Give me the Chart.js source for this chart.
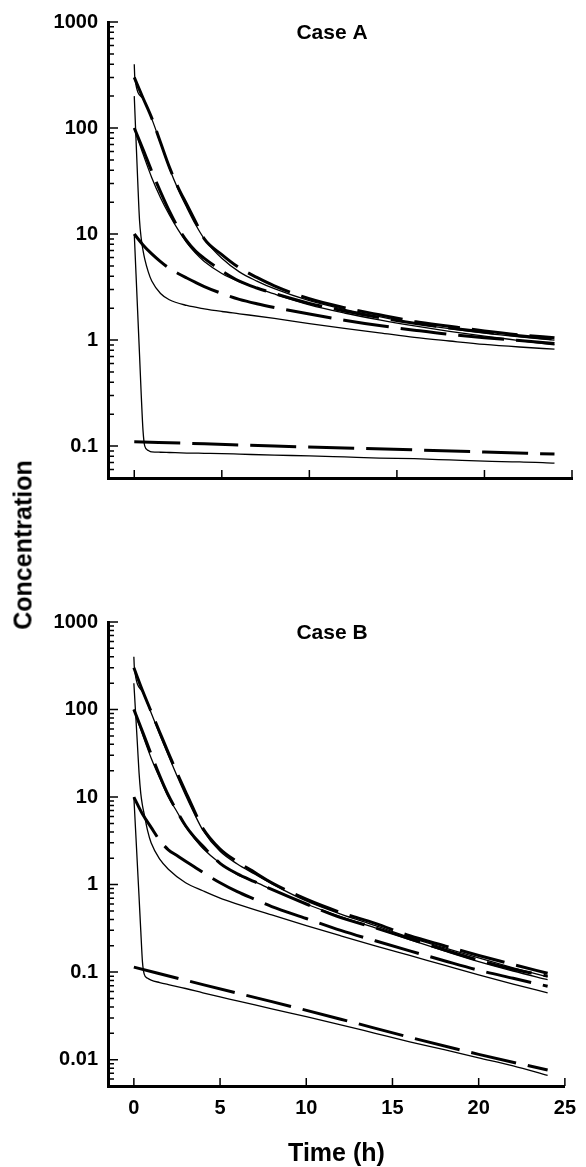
<!DOCTYPE html>
<html><head><meta charset="utf-8">
<script src="https://cdn.jsdelivr.net/npm/chart.js@4.4.1/dist/chart.umd.min.js"></script>
<style>
html,body{margin:0;padding:0;background:#fff;width:586px;height:1167px;overflow:hidden;}
#wrap{position:relative;width:586px;height:1167px;}
canvas{position:absolute;left:0;}
#ylab{position:absolute;font:bold 25px "Liberation Sans", Arial, sans-serif;color:#000;white-space:nowrap;left:22.5px;top:545px;transform:translate(-50%,-50%) rotate(-90deg);}
</style></head>
<body><div id="wrap">
<canvas id="cA" width="586" height="500" style="top:0px"></canvas>
<canvas id="cB" width="586" height="567" style="top:600px"></canvas>
<div id="ylab">Concentration</div>
</div>
<script>
// ---- time grids (h)
const tDose  = [0, 0.5, 1, 1.5, 2, 2.5, 3, 3.5, 4, 5, 6, 7, 8, 10, 12, 14, 16, 18, 20, 22, 24];
const tFast  = [0, 0.1, 0.2, 0.3, 0.4, 0.5, 0.6, 0.8, 1, 1.5, 2, 3, 4, 5, 6, 8, 10, 12, 14, 16, 18, 20, 22, 24];
const tStart = [0, 0.03, 0.5, 1, 1.5, 2, 2.5, 3, 3.5, 4, 5, 6, 7, 8, 10, 12, 14, 16, 18, 20, 22, 24];
const tLow   = [0, 4, 8, 12, 16, 20, 24];

// ---- Case A
const aDash300 = [300, 192, 124, 73, 43, 27.6, 19, 13.1, 9.0, 6.4, 4.8, 3.9, 3.25, 2.45, 2.02, 1.73, 1.5, 1.35, 1.22, 1.12, 1.05];
const aDash100 = [100, 63, 39, 25, 16.5, 11.5, 8.6, 6.9, 5.9, 4.5, 3.6, 3.1, 2.75, 2.22, 1.88, 1.63, 1.44, 1.3, 1.19, 1.1, 1.02];
const aDash10  = [10, 7.9, 6.5, 5.5, 4.75, 4.25, 3.85, 3.5, 3.2, 2.75, 2.42, 2.2, 2.03, 1.76, 1.54, 1.37, 1.24, 1.13, 1.05, 0.99, 0.93];
const aDashLow = [0.11, 0.105, 0.1, 0.096, 0.092, 0.088, 0.084];
const aSolid400 = [400, 300, 190, 122, 72, 42, 26.5, 17.8, 12.3, 9.0, 5.9, 4.4, 3.6, 3.05, 2.35, 1.95, 1.66, 1.44, 1.28, 1.16, 1.07, 1.0];
const aSolid100 = [100, 57, 34, 22, 15.2, 11, 8.3, 6.6, 5.5, 4.25, 3.55, 3.1, 2.72, 2.15, 1.8, 1.55, 1.36, 1.21, 1.09, 0.99, 0.9];
const aSolid200 = [200, 78, 31, 13.5, 9, 7, 5.8, 4.4, 3.6, 2.75, 2.4, 2.12, 1.97, 1.86, 1.77, 1.6, 1.43, 1.29, 1.17, 1.06, 0.98, 0.91, 0.86, 0.82];
const aSolid10  = [10, 4.2, 1.75, 0.73, 0.3, 0.14, 0.1, 0.091, 0.088, 0.0875, 0.087, 0.086, 0.0855, 0.085, 0.084, 0.082, 0.081, 0.079, 0.077, 0.076, 0.074, 0.072, 0.071, 0.069];

// ---- Case B
const bDash300 = [300, 165, 95, 55, 32, 19, 11.5, 7, 4.4, 2.55, 1.82, 1.38, 1.05, 0.68, 0.48, 0.36, 0.26, 0.2, 0.155, 0.122, 0.097];
const bDash100 = [100, 56, 31, 17.5, 10.5, 6.9, 4.7, 3.5, 2.75, 1.75, 1.33, 1.08, 0.88, 0.6, 0.42, 0.32, 0.24, 0.18, 0.137, 0.108, 0.09];
const bDash10  = [10, 6.4, 4.5, 3.2, 2.5, 2.15, 1.85, 1.6, 1.38, 1.05, 0.83, 0.68, 0.56, 0.41, 0.3, 0.228, 0.175, 0.135, 0.105, 0.085, 0.069];
const bDashLow = [0.114, 0.072, 0.046, 0.029, 0.018, 0.0115, 0.0076];
const bSolid400 = [400, 300, 160, 92, 52, 30, 17.5, 10.5, 6.5, 4.2, 2.4, 1.72, 1.32, 1.02, 0.65, 0.46, 0.34, 0.25, 0.19, 0.145, 0.112, 0.088];
const bSolid100 = [100, 52, 28, 16.5, 10, 6.8, 4.6, 3.4, 2.6, 1.75, 1.3, 1.08, 0.88, 0.6, 0.43, 0.32, 0.235, 0.175, 0.132, 0.103, 0.082];
const bSolid200 = [200, 92, 42, 19, 11, 8, 6.4, 4.1, 3.0, 1.95, 1.5, 1.05, 0.85, 0.7, 0.6, 0.45, 0.34, 0.26, 0.2, 0.155, 0.12, 0.093, 0.073, 0.058];
const bSolid10  = [10, 4.2, 1.75, 0.73, 0.3, 0.13, 0.095, 0.085, 0.081, 0.076, 0.072, 0.065, 0.058, 0.052, 0.047, 0.038, 0.031, 0.025, 0.02, 0.016, 0.013, 0.0105, 0.0085, 0.0066];

// ---- ticks
const xTicks  = [0, 5, 10, 15, 20, 25];
const yTicksA = [0.1, 1, 10, 100, 1000];
const yTicksB = [0.01, 0.1, 1, 10, 100, 1000];

const FONT = '"Liberation Sans", Arial, Helvetica, sans-serif';

function pts(t, v){ return t.map((x,i)=>({x:x, y:v[i]})); }
function solid(t, v){ return {data:pts(t,v), borderColor:'#000', borderWidth:1.3, pointRadius:0, cubicInterpolationMode:'monotone', fill:false}; }
function dashed(t, v){ return {data:pts(t,v), borderColor:'#000', borderWidth:3, borderDash:[46,12], borderCapStyle:'butt', pointRadius:0, cubicInterpolationMode:'monotone', fill:false}; }

const inTicks = {
  id:'inTicks',
  afterDatasetsDraw(chart){
    const {ctx, chartArea:a, scales:{x, y}} = chart;
    ctx.save();
    ctx.strokeStyle = '#000';
    ctx.lineWidth = 1.5;
    ctx.beginPath();
    const lo = Math.floor(Math.log10(y.min)), hi = Math.ceil(Math.log10(y.max));
    for (let e = lo; e <= hi; e++) {
      for (let m = 1; m < 10; m++) {
        const v = m * Math.pow(10, e);
        if (v < y.min * 0.999 || v > y.max * 1.001) continue;
        const py = y.getPixelForValue(v);
        const len = (m === 1) ? 10 : 6;
        ctx.moveTo(a.left, py); ctx.lineTo(a.left + len, py);
      }
    }
    xTicks.forEach(v => { const px = x.getPixelForValue(v); ctx.moveTo(px, a.bottom); ctx.lineTo(px, a.bottom - 8); });
    ctx.stroke();
    ctx.restore();
  }
};

const caseTitle = {
  id:'caseTitle',
  afterDraw(chart, args, opts){
    const ctx = chart.ctx;
    ctx.save();
    ctx.font = 'bold 21px ' + FONT;
    ctx.fillStyle = '#000';
    ctx.textAlign = 'center';
    ctx.textBaseline = 'middle';
    ctx.fillText(opts.text, opts.x, opts.y);
    ctx.restore();
  }
};

function makeChart(id, title, datasets, yMin, yMax, yTicks, showX, xHeight){
  return new Chart(document.getElementById(id), {
    type:'line',
    data:{datasets:datasets},
    plugins:[inTicks, caseTitle],
    options:{
      responsive:false, animation:false, devicePixelRatio:1,
      layout:{padding:{left:0, right:14, top:22, bottom:0}},
      plugins:{legend:{display:false}, tooltip:{enabled:false}, caseTitle:{text:title, x:332, y:33}},
      scales:{
        x:{
          type:'linear', min:-1.5, max:25,
          afterBuildTicks:s=>{ s.ticks = xTicks.map(v=>({value:v})); },
          afterFit:s=>{ s.height = xHeight; },
          grid:{display:false, drawTicks:false},
          border:{display:true, width:3, color:'#000'},
          ticks:{display:showX, color:'#000', padding:10, maxRotation:0, autoSkip:false,
                 font:{family:FONT, size:20, weight:'bold'}},
          title:{display:showX, text:'Time (h)', color:'#000', padding:{top:0, bottom:0},
                 font:{family:FONT, size:25, weight:'bold', lineHeight:1}}
        },
        y:{
          type:'logarithmic', min:yMin, max:yMax,
          afterBuildTicks:s=>{ s.ticks = yTicks.map(v=>({value:v})); },
          afterFit:s=>{ s.width = 108; },
          grid:{display:false, drawTicks:false},
          border:{display:true, width:3, color:'#000'},
          ticks:{color:'#000', padding:10, autoSkip:false, callback:v=>String(v),
                 font:{family:FONT, size:20, weight:'bold'}}
        }
      }
    }
  });
}

makeChart('cA', 'Case A', [
  solid(tStart, aSolid400), solid(tDose, aSolid100), solid(tFast, aSolid200), solid(tFast, aSolid10),
  dashed(tDose, aDash300), dashed(tDose, aDash100), dashed(tDose, aDash10), dashed(tLow, aDashLow)
], 0.05, 1000, yTicksA, false, 14);

makeChart('cB', 'Case B', [
  solid(tStart, bSolid400), solid(tDose, bSolid100), solid(tFast, bSolid200), solid(tFast, bSolid10),
  dashed(tDose, bDash300), dashed(tDose, bDash100), dashed(tDose, bDash10), dashed(tLow, bDashLow)
], 0.005, 1000, yTicksB, true, 81);
</script>
</body></html>
